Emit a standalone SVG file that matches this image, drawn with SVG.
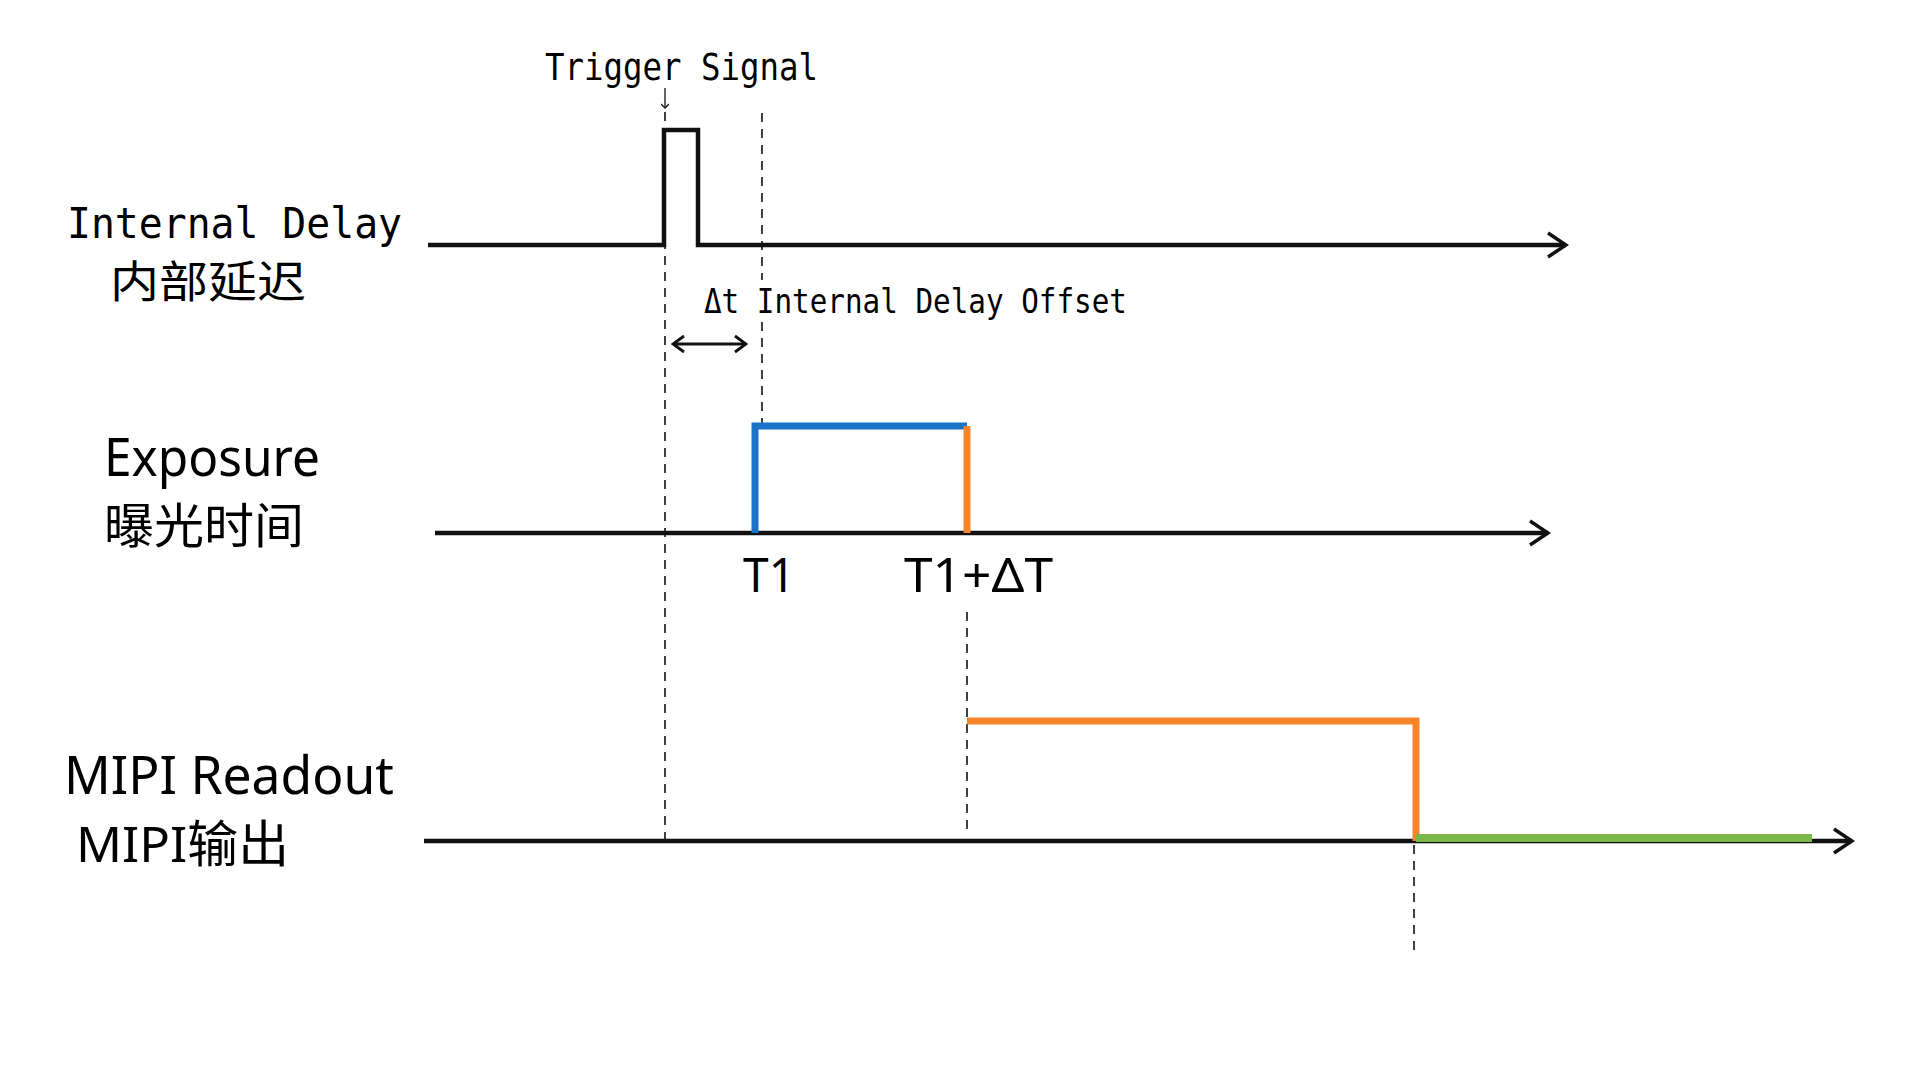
<svg xmlns="http://www.w3.org/2000/svg" width="1920" height="1078" viewBox="0 0 1920 1078">
<defs>
<marker id="ah" markerWidth="24" markerHeight="30" refX="21" refY="15" orient="auto" markerUnits="userSpaceOnUse"><path d="M3,3 L21,15 L3,27" fill="none" stroke="#111" stroke-width="3.5"/></marker>
<marker id="sa" markerWidth="14" markerHeight="20" refX="12" refY="10" orient="auto-start-reverse" markerUnits="userSpaceOnUse"><path d="M1,2 L12,10 L1,18" fill="none" stroke="#111" stroke-width="2.8"/></marker>
<marker id="tiny" markerWidth="8" markerHeight="8" refX="4" refY="7" orient="0" markerUnits="userSpaceOnUse"><path d="M0,3 L4,7 L8,3" fill="none" stroke="#111" stroke-width="1.3"/></marker>
</defs>
<style>
.ax{stroke:#111;stroke-width:4.5;fill:none}
.dash{stroke:#111;stroke-width:1.6;stroke-dasharray:9,7;fill:none}
.mono{font-family:"DejaVu Sans Mono","Liberation Mono",monospace;fill:#000}
.sans{font-family:"Noto Sans","Noto Sans CJK SC",sans-serif;fill:#000}
.cjk{font-family:"Noto Sans CJK SC",sans-serif;fill:#000}
</style>
<rect width="1920" height="1078" fill="#fff"/>
<g id="connectors">
<path class="dash" d="M665,112 V841"/>
<path class="dash" d="M762,113 V280 M762,322 V426"/>
<path class="dash" d="M967,612 V833"/>
<path class="dash" d="M1414,845 V955"/>
<path d="M665,88 V108" stroke="#111" stroke-width="1.3" marker-end="url(#tiny)"/>
<path d="M673,344 H746" stroke="#111" stroke-width="2.8" marker-start="url(#sa)" marker-end="url(#sa)"/>
</g>
<g id="internal-delay">
<path class="ax" d="M428,245 H664 V130 H698 V245 H1566" marker-end="url(#ah)"/>
<text class="mono" x="67" y="238" font-size="42" textLength="335" lengthAdjust="spacingAndGlyphs">Internal Delay</text>
<text class="cjk" x="110" y="298" font-size="44" textLength="196" lengthAdjust="spacingAndGlyphs">内部延迟</text>
<text class="mono" x="545" y="80" font-size="38" textLength="273" lengthAdjust="spacingAndGlyphs">Trigger Signal</text>
<text class="mono" x="704" y="313" font-size="34" textLength="423" lengthAdjust="spacingAndGlyphs">Δt Internal Delay Offset</text>
</g>
<g id="exposure">
<path class="ax" d="M435,533 H1548" marker-end="url(#ah)"/>
<path d="M755,533 V426 H967" stroke="#1a73c9" stroke-width="7" fill="none"/>
<path d="M967,426 V533" stroke="#f5842a" stroke-width="7" fill="none"/>
<text class="sans" x="104" y="476" font-size="52" textLength="216" lengthAdjust="spacingAndGlyphs">Exposure</text>
<text class="cjk" x="104" y="543" font-size="48" textLength="200" lengthAdjust="spacingAndGlyphs">曝光时间</text>
<text class="sans" x="743" y="592" font-size="48" textLength="52" lengthAdjust="spacingAndGlyphs">T1</text>
<text class="sans" x="904" y="592" font-size="48" textLength="149" lengthAdjust="spacingAndGlyphs">T1+ΔT</text>
</g>
<g id="mipi">
<path class="ax" d="M424,841 H1852" marker-end="url(#ah)"/>
<path d="M967,721 H1416 V841" stroke="#f5842a" stroke-width="7" fill="none"/>
<path d="M1416,838 H1812" stroke="#7ab648" stroke-width="8" fill="none"/>
<text class="sans" x="64" y="794" font-size="52" textLength="330" lengthAdjust="spacingAndGlyphs">MIPI Readout</text>
<text class="sans" x="76" y="862" font-size="50" textLength="213" lengthAdjust="spacingAndGlyphs">MIPI输出</text>
</g>
</svg>
